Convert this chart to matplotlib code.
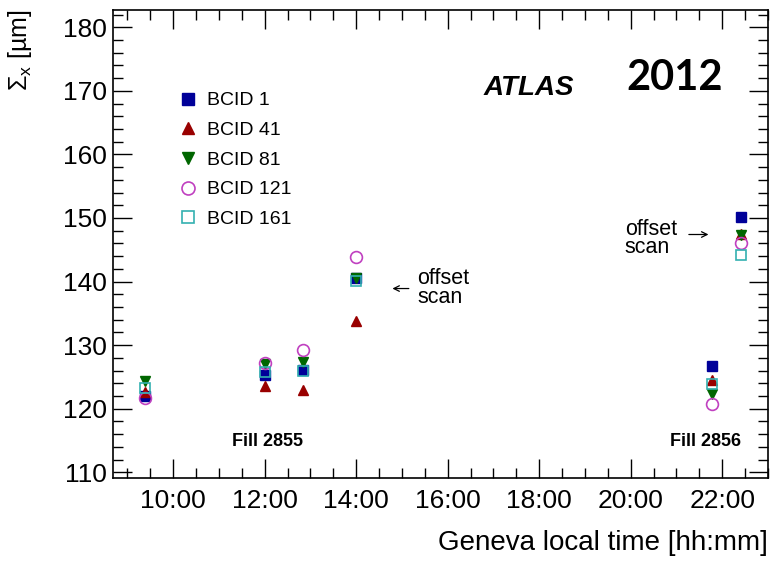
import numpy as np
import matplotlib
matplotlib.use("Agg")
import matplotlib.pyplot as plt
from matplotlib.ticker import MultipleLocator, FuncFormatter

plt.rcParams['font.family'] = ['Liberation Sans', 'DejaVu Sans']
plt.rcParams['mathtext.fontset'] = 'custom'
plt.rcParams['mathtext.rm'] = 'Liberation Sans'
plt.rcParams['mathtext.it'] = 'Liberation Sans:italic'

# scan times (hours, Geneva local time)
times = [9.38, 12.0, 12.83, 14.0, 21.78, 22.4]

# Sigma_x [um] per BCID
bcid1 = [122.0, 125.3, 126.1, 140.5, 126.7, 150.2]
bcid41 = [122.6, 123.6, 122.9, 133.8, 124.5, 147.5]
bcid81 = [124.3, 127.0, 127.3, 140.6, 122.3, 147.3]
bcid121 = [121.7, 127.2, 129.3, 143.9, 120.7, 146.1]
bcid161 = [123.3, 125.8, 126.0, 140.1, 123.9, 144.1]

labels = ['BCID 1', 'BCID 41', 'BCID 81', 'BCID 121', 'BCID 161']
series = [bcid1, bcid41, bcid81, bcid121, bcid161]
markers = ['s', '^', 'v', 'o', 's']
colors = ['#000099', '#990000', '#006600', '#c040c0', '#33b0b0']
filled = [True, True, True, False, False]

fig = plt.figure(figsize=(7.73, 5.61), dpi=100)
ax = fig.add_axes([0.146, 0.148, 0.8475, 0.834])

for vals, lab, m, c, f in zip(series, labels, markers, colors, filled):
    ax.plot(times, vals, linestyle='none', marker=m, color=c,
            markersize=7.5 if m != 'o' else 8.5,
            markerfacecolor=c if f else 'none', markeredgecolor=c,
            markeredgewidth=1.0 if f else 1.2, label=lab)

ax.set_xlim(8.68, 23.0)
ax.set_ylim(109.1, 182.7)

ax.xaxis.set_major_locator(MultipleLocator(2))
ax.xaxis.set_minor_locator(MultipleLocator(0.5))
ax.yaxis.set_major_locator(MultipleLocator(10))
ax.yaxis.set_minor_locator(MultipleLocator(2))
ax.xaxis.set_major_formatter(FuncFormatter(lambda v, p: f"{int(round(v)):02d}:00"))

ax.tick_params(which='both', direction='in', top=True, right=True, labelsize=19, width=1.0)
ax.tick_params(which='major', length=14)
ax.tick_params(which='minor', length=7)
ax.tick_params(axis='x', pad=8)
ax.tick_params(axis='y', pad=4)
for s in ax.spines.values():
    s.set_linewidth(1.2)

ax.set_xlabel('Geneva local time [hh:mm]', fontsize=20, loc='right', labelpad=12)
ax.set_ylabel(r'$\Sigma_{\mathrm{x}}$ [µm]', fontsize=18, loc='top', labelpad=21)

ax.text(17.78, 170.4, 'ATLAS', fontsize=20, fontweight='bold', fontstyle='italic',
        ha='center', va='center')
ax.text(20.97, 172.0, '2012', fontsize=30, fontweight='bold', family='Lato',
        ha='center', va='center')
ax.text(12.07, 114.8, 'Fill 2855', fontsize=13, fontweight='bold', ha='center', va='center')
ax.text(21.63, 114.8, 'Fill 2856', fontsize=13, fontweight='bold', ha='center', va='center')

ax.text(15.34, 139.0, 'offset\nscan', fontsize=15.5, ha='left', va='center', linespacing=0.85)
ax.annotate('', xy=(14.73, 138.9), xytext=(15.21, 138.9),
            arrowprops=dict(arrowstyle='->', lw=0.9, color='black'))
ax.text(19.87, 146.8, 'offset\nscan', fontsize=15.5, ha='left', va='center', linespacing=0.85)
ax.annotate('', xy=(21.76, 147.4), xytext=(21.21, 147.4),
            arrowprops=dict(arrowstyle='->', lw=0.9, color='black'))

leg = ax.legend(loc='upper left', bbox_to_anchor=(0.088, 0.842), frameon=False,
                fontsize=14, handlelength=1.0, handletextpad=0.5, labelspacing=0.62,
                borderaxespad=0, markerscale=1.1)

fig.savefig('out.png', dpi=100)
